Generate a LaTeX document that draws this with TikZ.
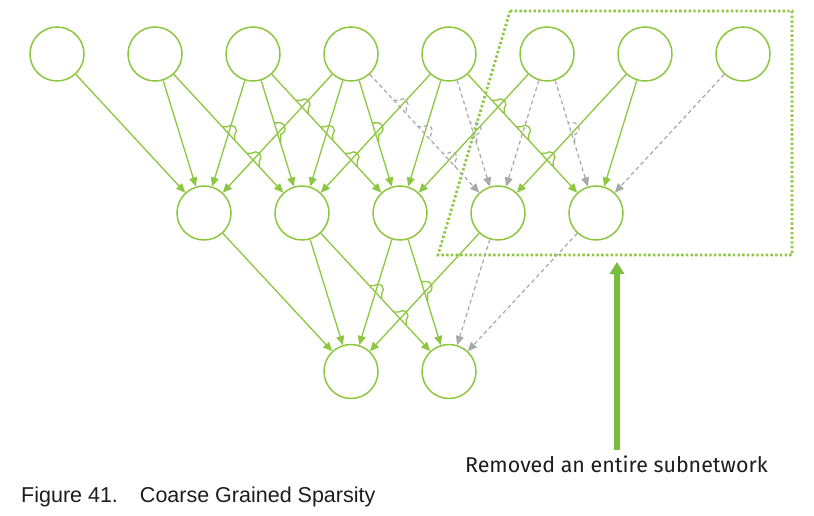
\documentclass[tikz,border=0pt]{standalone}
\usepackage{fontspec}
\setmainfont{Liberation Sans}
\newfontfamily\labelfont{Fira Sans}
\usetikzlibrary{arrows.meta,calc}
\definecolor{nvg}{RGB}{141,198,63}
\definecolor{arrg}{RGB}{120,190,60}
\definecolor{dgray}{RGB}{166,168,171}
\definecolor{txtc}{RGB}{30,28,30}
% line jump: #1 style, #2 from, #3 to, #4 hop positions, #5 direction angle,
% #6 horizontal stub, #7 arc radius, #8 half gap along the line
\newcommand{\hopconn}[8]{%
  \draw[#1] (#2) \foreach \hp in {#4} {
    -- ($(#2.center)!\hp!(#3.center)!#8!(#2.center)$) -- ++(#6,0)
    arc[start angle={#5+180}, end angle={#5}, radius=#7]
    -- ($(#2.center)!\hp!(#3.center)!#8!(#3.center)$) } -- (#3);%
}
\newcommand{\hopA}[4]{\hopconn{#1}{#2}{#3}{#4}{-47.24}{5pt}{5.5pt}{9.2pt}}
\newcommand{\hopB}[4]{\hopconn{#1}{#2}{#3}{#4}{-72.87}{3pt}{6pt}{11.1pt}}
\begin{document}
\begin{tikzpicture}[x=1pt,y=1pt,
  neuron/.style={circle, draw=nvg, line width=1.5pt, minimum size=54pt, inner sep=0pt},
  gconn/.style={draw=nvg, line width=1.3pt, -{Triangle[length=9pt,width=8pt]}},
  dconn/.style={draw=dgray, line width=1.2pt, dash pattern=on 4pt off 3pt, -{Triangle[length=9pt,width=8pt]}},
  dotbox/.style={draw=nvg, line width=2.7pt, dash pattern=on 2.4pt off 2.3pt},
  bigarrow/.style={draw=arrg, line width=6pt, -{Triangle[length=12pt,width=14pt]}}
]
\useasboundingbox (0,0) rectangle (814,-516);

% nodes
\foreach \i in {1,...,8} { \node[neuron] (T\i) at ({57+98*(\i-1)},-54) {}; }
\foreach \i in {1,...,5} { \node[neuron] (M\i) at ({204+98*(\i-1)},-213) {}; }
\node[neuron] (B1) at (351,-371.5) {};
\node[neuron] (B2) at (449,-371.5) {};

% dotted region
\coordinate (r1) at (510,-11);
\coordinate (r2) at (792,-11);
\coordinate (r3) at (792,-255);
\coordinate (r4) at (438,-255);
\draw[dotbox] (r1) -- (r2) -- (r3) -- (r4) -- cycle;

% layer 1: down-left lines
\draw[gconn] (T3) -- (M1);
\draw[gconn] (T4) -- (M2);
\draw[gconn] (T5) -- (M3);
\draw[dconn] (T6) -- (M4);
\draw[gconn] (T7) -- (M5);
\draw[gconn] (T4) -- (M1);
\draw[gconn] (T5) -- (M2);
\draw[gconn] (T6) -- (M3);
\draw[gconn] (T7) -- (M4);
\draw[dconn] (T8) -- (M5);
% layer 1: down-right lines
\draw[gconn] (T1) -- (M1);
\draw[gconn] (T2) -- (M1);
\hopA{gconn}{T2}{M2}{0.5,0.6667}
\hopA{gconn}{T3}{M3}{0.3333,0.5,0.6667}
\hopA{dconn}{T4}{M4}{0.3333,0.5,0.6667}
\hopA{gconn}{T5}{M5}{0.3333,0.5,0.6667}
\hopB{gconn}{T3}{M2}{0.5}
\hopB{gconn}{T4}{M3}{0.5}
\hopB{dconn}{T5}{M4}{0.5}
\hopB{dconn}{T6}{M5}{0.5}

% layer 2
\draw[gconn] (M1) -- (B1);
\draw[gconn] (M2) -- (B1);
\draw[gconn] (M3) -- (B1);
\draw[gconn] (M4) -- (B1);
\hopA{gconn}{M2}{B2}{0.5,0.6667}
\hopB{gconn}{M3}{B2}{0.5}
\draw[dconn] (M4) -- (B2);
\draw[dconn] (M5) -- (B2);

% annotation
\coordinate (arrS) at (617,-450);
\coordinate (arrE) at (617,-262);
\draw[bigarrow] (arrS) -- (arrE);
\node[anchor=base west, inner sep=0pt, text=txtc, font=\labelfont\fontsize{21.4}{25}\selectfont] (lbl) at (465,-472) {Removed an entire subnetwork};

% caption
\node[anchor=base west, inner sep=0pt, text=txtc, font=\fontsize{21.5}{25}\selectfont] (cap) at (21,-502) {Figure 41.\hspace*{22pt}Coarse Grained Sparsity};
\end{tikzpicture}
\end{document}
